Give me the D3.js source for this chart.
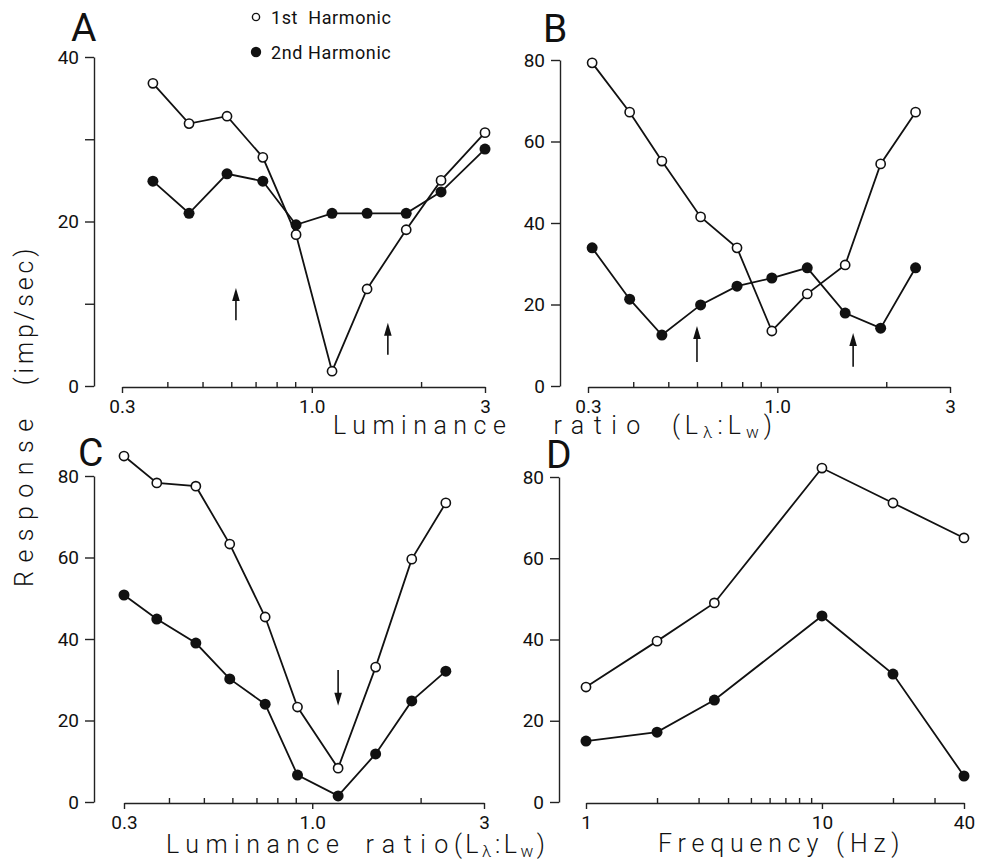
<!DOCTYPE html>
<html>
<head>
<meta charset="utf-8">
<script src="https://cdn.jsdelivr.net/npm/d3@7"></script>
<style>
  body { margin: 0; background: #fff; }
  text { font-family: Roboto, "Liberation Sans", sans-serif; fill: #111; }
</style>
</head>
<body>
<svg id="fig" width="984" height="859"></svg>
<script>
// ---- Panel A: response vs luminance ratio ----
const ratioA  = [0.365, 0.459, 0.584, 0.733, 0.905, 1.137, 1.42, 1.82, 2.27, 3.0];
const firstA  = [36.8, 31.9, 32.8, 27.8, 18.4, 1.8, 11.8, 19.0, 25.0, 30.8];
const secondA = [24.9, 21.0, 25.8, 24.9, 19.6, 21.0, 21.0, 21.0, 23.6, 28.8];
const arrowsA = [{ at: 0.618, from: 8.0, to: 11.9 }, { at: 1.62, from: 3.8, to: 7.7 }];

// ---- Panel B ----
const ratioB  = [0.308, 0.391, 0.48, 0.614, 0.774, 0.966, 1.21, 1.54, 1.93, 2.41];
const firstB  = [79.3, 67.2, 55.2, 41.5, 33.9, 13.5, 22.6, 29.7, 54.5, 67.2];
const secondB = [33.9, 21.3, 12.5, 19.9, 24.5, 26.5, 29.0, 17.9, 14.2, 29.0];
const arrowsB = [{ at: 0.60, from: 5.9, to: 14.7 }, { at: 1.62, from: 4.7, to: 13.0 }];

// ---- Panel C ----
const ratioC  = [0.30, 0.37, 0.475, 0.59, 0.74, 0.91, 1.18, 1.5, 1.89, 2.35];
const firstC  = [84.9, 78.3, 77.5, 63.3, 45.4, 23.3, 8.3, 33.1, 59.6, 73.4];
const secondC = [50.8, 44.9, 39.0, 30.2, 24.0, 6.6, 1.5, 11.8, 24.8, 32.1];
const arrowsC = [{ at: 1.18, from: 32.4, to: 23.6 }];

// ---- Panel D: response vs temporal frequency ----
const freqD   = [1, 2, 3.5, 10, 20, 40];
const firstD  = [28.3, 39.6, 49.0, 82.2, 73.6, 65.0];
const secondD = [15.0, 17.2, 25.1, 45.8, 31.5, 6.4];

// Axis ticks
const ratioMajor  = [0.3, 1, 3];
const ratioLabels = ["0.3", "1.0", "3"];
const ratioMinor  = [0.4, 0.5, 0.6, 0.7, 0.8, 0.9, 2];
const freqMajor   = [1, 10, 40];
const freqLabels  = ["1", "10", "40"];
const freqMinor   = [2, 3, 4, 5, 6, 7, 8, 9, 20, 30];
const yTicks40 = [0, 10, 20, 30, 40];
const yLabels40 = [0, 20, 40];
const yTicks80 = [0, 20, 40, 60, 80];

const legendItems = ["1st  Harmonic", "2nd Harmonic"];

const svg = d3.select("#fig");
svg.append("rect").attr("width", 984).attr("height", 859).attr("fill", "#fff");

function drawPanel(p) {
  const g = svg.append("g");
  const x = d3.scaleLog().domain(p.xDomain).range(p.xRange);
  const y = d3.scaleLinear().domain(p.yDomain).range(p.yRange);

  // y axis
  const ya = g.append("g")
    .attr("transform", `translate(${p.yAxisX},0)`)
    .call(d3.axisLeft(y).tickValues(p.yTicks).tickSize(9).tickSizeOuter(0).tickPadding(6)
      .tickFormat(d => p.yLabels.includes(d) ? d : ""));
  // x axis: labelled ticks point down, minor ticks point up
  const xa = g.append("g")
    .attr("transform", `translate(0,${p.xAxisY})`)
    .call(d3.axisBottom(x).tickValues(p.xMajor).tickSize(6).tickSizeOuter(0).tickPadding(7)
      .tickFormat((d, i) => p.xLabels[i]));
  const xm = g.append("g")
    .attr("transform", `translate(0,${p.xAxisY})`)
    .call(d3.axisTop(x).tickValues(p.xMinor).tickSize(5).tickFormat(""));
  xm.select(".domain").remove();

  [ya, xa, xm].forEach(a => {
    a.selectAll("path,line").attr("stroke", "#222").attr("stroke-width", 1.4);
    a.selectAll("text").attr("font-size", 19).attr("fill", "#111")
      .attr("font-family", "Roboto, 'Liberation Sans', sans-serif").attr("font-weight", 400);
  });

  const line = d3.line().x(d => x(d[0])).y(d => y(d[1]));
  const open = p.xs.map((v, i) => [v, p.first[i]]);
  const filled = p.xs.map((v, i) => [v, p.second[i]]);

  [filled, open].forEach(s => g.append("path").attr("d", line(s))
    .attr("fill", "none").attr("stroke", "#111").attr("stroke-width", 1.8));

  g.selectAll(".f").data(filled).join("circle")
    .attr("cx", d => x(d[0])).attr("cy", d => y(d[1])).attr("r", 5.5).attr("fill", "#111");
  g.selectAll(".o").data(open).join("circle")
    .attr("cx", d => x(d[0])).attr("cy", d => y(d[1])).attr("r", 4.6)
    .attr("fill", "#fff").attr("stroke", "#111").attr("stroke-width", 1.6);

  // arrows marking reference ratios
  (p.arrows || []).forEach(a => {
    const ax = x(a.at), y0 = y(a.from), y1 = y(a.to);
    const dir = y1 < y0 ? 1 : -1;
    g.append("line").attr("x1", ax).attr("x2", ax).attr("y1", y0).attr("y2", y1 + dir * 8)
      .attr("stroke", "#111").attr("stroke-width", 1.6);
    g.append("path")
      .attr("d", `M${ax},${y1} L${ax - 3.8},${y1 + dir * 13} L${ax + 3.8},${y1 + dir * 13} Z`)
      .attr("fill", "#111");
  });

  g.append("text").attr("x", p.letterPos[0]).attr("y", p.letterPos[1])
    .attr("font-size", 39).attr("font-weight", 400).text(p.letter);
  return { x, y };
}

drawPanel({
  letter: "A", letterPos: [71, 41],
  xDomain: [0.3, 3], xRange: [122, 485], yDomain: [0, 40], yRange: [386, 57],
  yAxisX: 94, xAxisY: 387, yTicks: yTicks40, yLabels: yLabels40,
  xMajor: ratioMajor, xLabels: ratioLabels, xMinor: ratioMinor,
  xs: ratioA, first: firstA, second: secondA, arrows: arrowsA
});
drawPanel({
  letter: "B", letterPos: [543, 42],
  xDomain: [0.3, 3], xRange: [588, 950], yDomain: [0, 80], yRange: [386, 60],
  yAxisX: 560, xAxisY: 387, yTicks: yTicks80, yLabels: yTicks80,
  xMajor: ratioMajor, xLabels: ratioLabels, xMinor: ratioMinor,
  xs: ratioB, first: firstB, second: secondB, arrows: arrowsB
});
drawPanel({
  letter: "C", letterPos: [78, 466],
  xDomain: [0.3, 3], xRange: [124, 484], yDomain: [0, 80], yRange: [802, 476],
  yAxisX: 94, xAxisY: 803, yTicks: yTicks80, yLabels: yTicks80,
  xMajor: ratioMajor, xLabels: ratioLabels, xMinor: ratioMinor,
  xs: ratioC, first: firstC, second: secondC, arrows: arrowsC
});
drawPanel({
  letter: "D", letterPos: [546, 468],
  xDomain: [1, 40], xRange: [586, 964], yDomain: [0, 80], yRange: [802, 477],
  yAxisX: 559, xAxisY: 803, yTicks: yTicks80, yLabels: yTicks80,
  xMajor: freqMajor, xLabels: freqLabels, xMinor: freqMinor,
  xs: freqD, first: firstD, second: secondD
});

// legend
const lg = svg.append("g");
legendItems.forEach((t, i) => {
  const cy = 17 + i * 35;
  if (i === 0) {
    lg.append("circle").attr("cx", 256).attr("cy", cy).attr("r", 3.6)
      .attr("fill", "#fff").attr("stroke", "#111").attr("stroke-width", 1.4);
  } else {
    lg.append("circle").attr("cx", 256).attr("cy", cy).attr("r", 5.2).attr("fill", "#111");
  }
  lg.append("text").attr("x", 271).attr("y", cy + 6.5).attr("font-size", 18)
    .attr("font-weight", 400).attr("letter-spacing", 0.6)
    .style("white-space", "pre").text(t);
});

// shared axis titles: "Luminance ratio (Lλ:Lw)" with subscripted λ and w
function ratioTitle(xPos, yPos, gap1, ratioSpacing, gap2, parenSpacing) {
  const t = svg.append("text").attr("x", xPos).attr("y", yPos)
    .attr("font-size", 25).attr("font-weight", 300).style("white-space", "pre");
  t.append("tspan").attr("letter-spacing", 6.5).text("Luminance");
  t.append("tspan").attr("dx", gap1).attr("letter-spacing", ratioSpacing).text("ratio");
  t.append("tspan").attr("dx", gap2).attr("letter-spacing", parenSpacing).text("(L");
  t.append("tspan").attr("font-size", 17).attr("dy", 4).attr("letter-spacing", parenSpacing).text("λ");
  t.append("tspan").attr("dy", -4).attr("letter-spacing", parenSpacing).text(":L");
  t.append("tspan").attr("font-size", 17).attr("dy", 4).attr("letter-spacing", parenSpacing).text("w");
  t.append("tspan").attr("dy", -4).text(")");
}
ratioTitle(333, 434, 41, 9.5, 22, 5);
ratioTitle(166, 853, 20, 8.5, -3, 3.5);

svg.append("text").attr("x", 658).attr("y", 852)
  .attr("font-size", 25).attr("font-weight", 300).attr("letter-spacing", 5.8)
  .style("white-space", "pre").text("Frequency (Hz)");

// rotated y title, running bottom to top
const yt = svg.append("text")
  .attr("transform", "translate(33,587) rotate(-90)")
  .attr("font-size", 25).attr("font-weight", 300).style("white-space", "pre");
yt.append("tspan").attr("letter-spacing", 8.5).text("Response");
yt.append("tspan").attr("dx", 25).attr("letter-spacing", 3.8).text("(imp/sec)");
</script>
</body>
</html>
